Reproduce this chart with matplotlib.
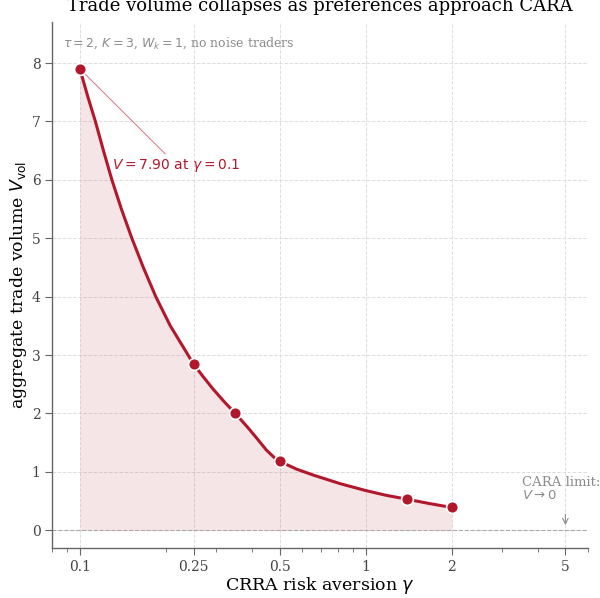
import matplotlib
matplotlib.use("Agg")
import matplotlib.pyplot as plt
from matplotlib.ticker import FixedLocator, FixedFormatter, NullFormatter, LogLocator

plt.rcParams['font.family'] = 'DejaVu Serif'
plt.rcParams['mathtext.fontset'] = 'dejavusans'

# smooth curve
gamma_curve = [0.1, 0.1062, 0.1133, 0.1209, 0.1294, 0.1397, 0.1520, 0.1667, 0.1843,
               0.2072, 0.2391, 0.25, 0.27, 0.291, 0.32, 0.35, 0.39, 0.42, 0.45, 0.48,
               0.5, 0.574, 0.66, 0.818, 1.0, 1.175, 1.4, 1.66, 2.0]
vol_curve = [7.90, 7.45, 7.00, 6.50, 6.00, 5.50, 5.00, 4.50, 4.00,
             3.50, 3.00, 2.84, 2.63, 2.43, 2.20, 2.00, 1.74, 1.55, 1.37, 1.24,
             1.18, 1.045, 0.94, 0.795, 0.68, 0.60, 0.53, 0.46, 0.39]

# marked solutions
gamma_pts = [0.1, 0.25, 0.35, 0.5, 1.4, 2.0]
vol_pts = [7.90, 2.84, 2.00, 1.18, 0.53, 0.39]

xticks = [0.1, 0.25, 0.5, 1, 2, 5]
xticklabels = ['0.1', '0.25', '0.5', '1', '2', '5']
yticks = [0, 1, 2, 3, 4, 5, 6, 7, 8]

red = '#b2182b'
grey = '#8c8c8c'

fig = plt.figure(figsize=(6.0, 5.98), dpi=100)
ax = fig.add_axes([0.087, 0.084, 0.893, 0.879])

ax.fill_between(gamma_curve, vol_curve, 0, color=red, alpha=0.11, lw=0)
ax.plot(gamma_curve, vol_curve, color=red, lw=2.2, zorder=3, solid_joinstyle='round')
ax.plot(gamma_pts, vol_pts, 'o', color=red, ms=8.5, mec='white', mew=1.2, zorder=4)
ax.axhline(0, color='#aaaaaa', lw=0.8, ls='--', zorder=1)

ax.set_xscale('log')
ax.set_xlim(0.08, 6.0)
ax.set_ylim(-0.3, 8.7)
ax.xaxis.set_major_locator(FixedLocator(xticks))
ax.xaxis.set_major_formatter(FixedFormatter(xticklabels))
ax.xaxis.set_minor_locator(LogLocator(base=10, subs=range(2, 10)))
ax.xaxis.set_minor_formatter(NullFormatter())
ax.set_yticks(yticks)

ax.grid(True, which='major', color='#dddddd', ls='--', lw=0.7)
ax.set_axisbelow(True)
for side in ['top', 'right']:
    ax.spines[side].set_visible(False)
for side in ['left', 'bottom']:
    ax.spines[side].set_color('#666666')
    ax.spines[side].set_linewidth(1.0)
ax.tick_params(which='both', direction='out', colors='#666666', labelcolor='#444444', labelsize=10)
ax.tick_params(which='major', length=5)
ax.tick_params(which='minor', length=3)

ax.set_xlabel(r'CRRA risk aversion $\gamma$', fontsize=12.5, labelpad=1)
ax.set_ylabel(r'aggregate trade volume $V_{\mathrm{vol}}$', fontsize=12.5, labelpad=2)
ax.set_title('Trade volume collapses as preferences approach CARA', fontsize=13, pad=8)

ax.text(0.02, 0.975, r'$\tau=2$, $K=3$, $W_k=1$, no noise traders', transform=ax.transAxes,
        ha='left', va='top', fontsize=9, color=grey)

ax.annotate(r'$V = 7.90$ at $\gamma = 0.1$', xy=(gamma_pts[0], vol_pts[0]), xytext=(0.13, 6.25),
            ha='left', va='center', color=red, fontsize=10, family='DejaVu Sans',
            arrowprops=dict(arrowstyle='-', color=red, lw=0.7, alpha=0.6, shrinkA=0, shrinkB=4))

ax.text(3.52, 0.93, 'CARA limit:\n' + r'$V \to 0$', ha='left', va='top', fontsize=9.5,
        color=grey, linespacing=1.0)
ax.annotate('', xy=(5, 0.04), xytext=(5, 0.32),
            arrowprops=dict(arrowstyle='->', color=grey, lw=0.8))

fig.savefig('out.png', dpi=100)
